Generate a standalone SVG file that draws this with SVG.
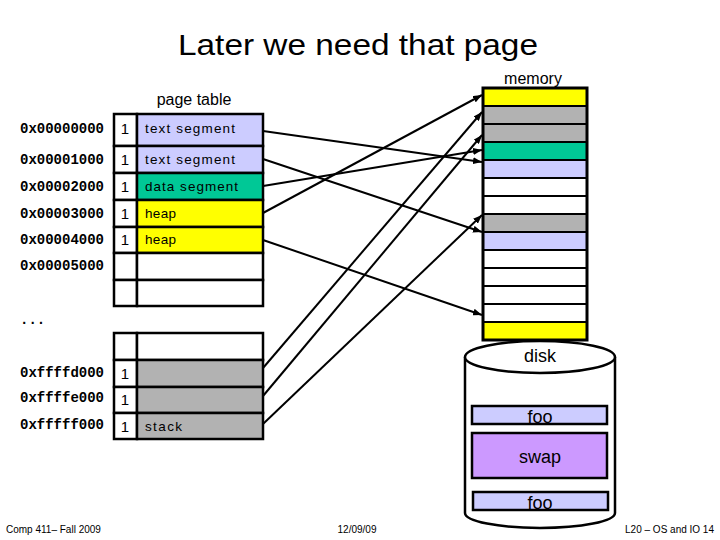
<svg xmlns="http://www.w3.org/2000/svg" width="720" height="540" viewBox="0 0 720 540">
<style>
.title{font-family:"Liberation Sans",Arial,sans-serif;font-size:30px;fill:#000}
.hdr{font-family:"Liberation Sans",Arial,sans-serif;font-size:16px;fill:#000}
.addr{font-family:"Liberation Mono","Courier New",monospace;font-weight:bold;font-size:14px;fill:#000}
.one{font-family:"Liberation Sans",Arial,sans-serif;font-size:15px;fill:#000}
.seg{font-family:"Liberation Sans",Arial,sans-serif;font-size:13.5px;fill:#000}
.big{font-family:"Liberation Sans",Arial,sans-serif;font-size:18px;fill:#000}
.foot{font-family:"Liberation Sans",Arial,sans-serif;font-size:10px;fill:#000}
.cell{stroke:#000;stroke-width:2.5}
.mem{stroke:#000;stroke-width:2}
.lav{fill:#ccccff}.grn{fill:#00c896}.yel{fill:#ffff00}.gry{fill:#b2b2b2}.wht{fill:#ffffff}.pur{fill:#cc99ff}
.arr{stroke:#000;stroke-width:2;fill:none;marker-end:url(#ah)}
</style>
<defs>
<marker id="ah" markerWidth="9" markerHeight="7" refX="9" refY="3.5" orient="auto" markerUnits="userSpaceOnUse">
<path d="M0,0 L9,3.5 L0,7 Z" fill="#000"/>
</marker>
</defs>
<rect width="720" height="540" fill="#fff"/>
<text class="title" x="358" y="55" text-anchor="middle" textLength="360" lengthAdjust="spacingAndGlyphs">Later we need that page</text>

<g id="disk">
<path d="M465,357 L465,513 A75,15 0 0 0 615,513 L615,357" fill="#fff" stroke="#000" stroke-width="2.5"/>
<ellipse cx="540" cy="357" rx="75" ry="16" fill="#fff" stroke="#000" stroke-width="2.5"/>
<text class="big" x="540" y="362" text-anchor="middle">disk</text>
<rect x="472" y="406" width="135" height="18" class="lav" stroke="#000" stroke-width="2.5"/>
<text class="big" x="540" y="423" text-anchor="middle">foo</text>
<rect x="472" y="433" width="135" height="45" class="pur" stroke="#000" stroke-width="2.5"/>
<text class="big" x="540" y="463" text-anchor="middle">swap</text>
<rect x="473" y="492" width="135" height="18" class="lav" stroke="#000" stroke-width="2.5"/>
<text class="big" x="540" y="509" text-anchor="middle">foo</text>
</g>

<g id="memory">
<text class="hdr" x="533" y="84" text-anchor="middle">memory</text>
<rect x="483" y="88" width="104" height="18" class="yel mem"/>
<rect x="483" y="106" width="104" height="18" class="gry mem"/>
<rect x="483" y="124" width="104" height="18" class="gry mem"/>
<rect x="483" y="142" width="104" height="18" class="grn mem"/>
<rect x="483" y="160" width="104" height="18" class="lav mem"/>
<rect x="483" y="178" width="104" height="18" class="wht mem"/>
<rect x="483" y="196" width="104" height="18" class="wht mem"/>
<rect x="483" y="214" width="104" height="18" class="gry mem"/>
<rect x="483" y="232" width="104" height="18" class="lav mem"/>
<rect x="483" y="250" width="104" height="18" class="wht mem"/>
<rect x="483" y="268" width="104" height="18" class="wht mem"/>
<rect x="483" y="286" width="104" height="18" class="wht mem"/>
<rect x="483" y="304" width="104" height="18" class="wht mem"/>
<rect x="483" y="322" width="104" height="18" class="yel mem"/>
<rect x="483" y="88" width="104" height="252" fill="none" stroke="#000" stroke-width="3"/>
</g>

<g id="page-table">
<text class="hdr" x="194" y="105" text-anchor="middle">page table</text>
<rect x="114" y="114" width="23" height="32" class="wht cell"/><rect x="137" y="114" width="126" height="32" class="lav cell"/>
<rect x="114" y="146" width="23" height="27" class="wht cell"/><rect x="137" y="146" width="126" height="27" class="lav cell"/>
<rect x="114" y="173" width="23" height="27" class="wht cell"/><rect x="137" y="173" width="126" height="27" class="grn cell"/>
<rect x="114" y="200" width="23" height="27" class="wht cell"/><rect x="137" y="200" width="126" height="27" class="yel cell"/>
<rect x="114" y="227" width="23" height="26" class="wht cell"/><rect x="137" y="227" width="126" height="26" class="yel cell"/>
<rect x="114" y="253" width="23" height="27" class="wht cell"/><rect x="137" y="253" width="126" height="27" class="wht cell"/>
<rect x="114" y="280" width="23" height="26" class="wht cell"/><rect x="137" y="280" width="126" height="26" class="wht cell"/>

<text class="addr" x="20" y="133">0x00000000</text>
<text class="addr" x="20" y="164">0x00001000</text>
<text class="addr" x="20" y="191">0x00002000</text>
<text class="addr" x="20" y="218">0x00003000</text>
<text class="addr" x="20" y="244">0x00004000</text>
<text class="addr" x="20" y="270">0x00005000</text>

<text class="one" x="125" y="134" text-anchor="middle">1</text>
<text class="one" x="125" y="165" text-anchor="middle">1</text>
<text class="one" x="125" y="192" text-anchor="middle">1</text>
<text class="one" x="125" y="219" text-anchor="middle">1</text>
<text class="one" x="125" y="245" text-anchor="middle">1</text>

<text class="seg" x="145" y="133" textLength="90">text segment</text>
<text class="seg" x="145" y="164" textLength="90">text segment</text>
<text class="seg" x="145" y="191" textLength="93">data segment</text>
<text class="seg" x="145" y="218" textLength="31">heap</text>
<text class="seg" x="145" y="244" textLength="31">heap</text>

<text class="addr" x="20" y="324">...</text>

<rect x="114" y="333" width="23" height="27" class="wht cell"/><rect x="137" y="333" width="126" height="27" class="wht cell"/>
<rect x="114" y="360" width="23" height="27" class="wht cell"/><rect x="137" y="360" width="126" height="27" class="gry cell"/>
<rect x="114" y="387" width="23" height="26" class="wht cell"/><rect x="137" y="387" width="126" height="26" class="gry cell"/>
<rect x="114" y="413" width="23" height="26" class="wht cell"/><rect x="137" y="413" width="126" height="26" class="gry cell"/>

<text class="addr" x="20" y="377">0xffffd000</text>
<text class="addr" x="20" y="402">0xffffe000</text>
<text class="addr" x="20" y="429">0xfffff000</text>
<text class="one" x="125" y="379" text-anchor="middle">1</text>
<text class="one" x="125" y="405" text-anchor="middle">1</text>
<text class="one" x="125" y="432" text-anchor="middle">1</text>
<text class="seg" x="145" y="431" textLength="37">stack</text>
</g>

<g id="connectors">
<line class="arr" x1="263" y1="131" x2="482" y2="162"/>
<line class="arr" x1="263" y1="159" x2="482" y2="232"/>
<line class="arr" x1="263" y1="186" x2="482" y2="150"/>
<line class="arr" x1="263" y1="213" x2="482" y2="95"/>
<line class="arr" x1="263" y1="240" x2="482" y2="315"/>
<line class="arr" x1="263" y1="368" x2="482" y2="112"/>
<line class="arr" x1="263" y1="396" x2="482" y2="135"/>
<line class="arr" x1="263" y1="424" x2="482" y2="215"/>
</g>

<text class="foot" x="6" y="533">Comp 411– Fall 2009</text>
<text class="foot" x="357" y="533" text-anchor="middle">12/09/09</text>
<text class="foot" x="714" y="533" text-anchor="end">L20 – OS and IO 14</text>
</svg>
